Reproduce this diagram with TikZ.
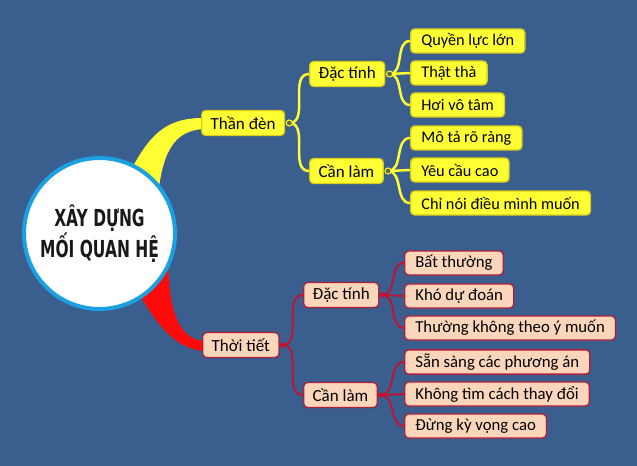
\documentclass[tikz,border=0pt]{standalone}
\usepackage{fontspec}
\setmainfont{Carlito}
\newfontfamily\titlefont[FakeStretch=0.66]{DejaVu Sans}
\usetikzlibrary{positioning}
\definecolor{bgblue}{HTML}{3A5E8E}
\definecolor{ringblue}{HTML}{1BA1E2}
\definecolor{lampyellow}{HTML}{FFFF33}
\definecolor{lampedge}{HTML}{D9CC1A}
\definecolor{lampdotgrey}{HTML}{5E6B4A}
\definecolor{wxpeach}{HTML}{FCD6BA}
\definecolor{wxedge}{HTML}{B01E3A}
\definecolor{wxwire}{HTML}{C8102E}
\definecolor{brightred}{HTML}{FF0A0A}
\tikzstyle{hub} = [circle, draw=ringblue, line width=1.2mm, fill=white, minimum size=45.3mm, align=center, text=black!90, font=\titlefont\bfseries\fontsize{20}{24}\selectfont]
\tikzstyle{lampbox} = [rectangle, draw=lampedge, fill=lampyellow, line width=0.4mm, rounded corners=1.2mm, minimum height=7.5mm, inner xsep=2.7mm, anchor=west, font=\fontsize{14.5}{17}\selectfont]
\tikzstyle{lampleaf} = [lampbox, minimum height=7.2mm, inner xsep=3.2mm, font=\fontsize{13.9}{15}\selectfont]
\tikzstyle{wxbox} = [lampbox, draw=wxedge, fill=wxpeach]
\tikzstyle{wxleaf} = [lampleaf, draw=wxedge, fill=wxpeach, font=\fontsize{14.3}{15}\selectfont]
\tikzstyle{lampwire} = [draw=lampyellow, line width=0.75mm]
\tikzstyle{wxwire} = [draw=wxwire, line width=0.55mm]
\tikzstyle{lampdot} = [circle, draw=lampyellow, fill=lampdotgrey, line width=0.25mm, inner sep=0pt, minimum size=1.8mm]
\tikzstyle{wxdot} = [circle, fill=wxwire, inner sep=0pt, minimum size=1.6mm]

\begin{document}
\begin{tikzpicture}[x=0.3mm, y=-0.3mm]

        \fill[bgblue] (0,0) rectangle (637,466);
        \useasboundingbox (0,0) rectangle (637,466);

        % thick branches out of the circle
        \fill[lampyellow] (126,180) .. controls (148,135) and (165,118) .. (203,118)
                -- (203,129) .. controls (175,131) and (163,150) .. (158,195) -- cycle;
        \fill[brightred] (132,280) .. controls (155,325) and (175,348) .. (203,351)
                -- (203,341) .. controls (182,338) and (170,320) .. (168,265) -- cycle;

        \node [hub] (hub) at (99.5,233.5) {XÂY DỰNG\\MỐI QUAN HỆ};

        % upper side
        \node [lampbox] (lamp) at (201,123) {Thần đèn};
        \node [lampbox] (lampfeat) at (309,74) {Đặc tính};
        \node [lampbox] (lampdo) at (309,171) {Cần làm};
        \node [lampleaf] (power) at (410,41) {Quyền lực lớn};
        \node [lampleaf] (honest) at (410,73) {Thật thà};
        \node [lampleaf] (careless) at (410,105) {Hơi vô tâm};
        \node [lampleaf] (describe) at (410,138) {Mô tả rõ ràng};
        \node [lampleaf] (demand) at (410,170) {Yêu cầu cao};
        \node [lampleaf] (wish) at (410,203) {Chỉ nói điều mình muốn};

        \node [lampdot, right = 0.2mm of lamp] (lampjoint) {};
        \node [lampdot, right = 0.2mm of lampfeat] (featjoint) {};
        \node [lampdot, right = 0.2mm of lampdo] (dojoint) {};

        \draw [lampwire] (lampjoint.center) to[out=0, in=180] (lampfeat.west);
        \draw [lampwire] (lampjoint.center) to[out=0, in=180] (lampdo.west);
        \draw [lampwire] (featjoint.center) to[out=0, in=180] (power.west);
        \draw [lampwire] (featjoint.center) -- (honest.west);
        \draw [lampwire] (featjoint.center) to[out=0, in=180] (careless.west);
        \draw [lampwire] (dojoint.center) to[out=0, in=180] (describe.west);
        \draw [lampwire] (dojoint.center) -- (demand.west);
        \draw [lampwire] (dojoint.center) to[out=0, in=180] (wish.west);
        \node [lampdot] at (lampjoint) {};
        \node [lampdot] at (featjoint) {};
        \node [lampdot] at (dojoint) {};

        % lower side
        \node [wxbox] (weather) at (202,345) {Thời tiết};
        \node [wxbox] (wxfeat) at (303,295) {Đặc tính};
        \node [wxbox] (wxdo) at (303,395) {Cần làm};
        \node [wxleaf] (odd) at (404,263) {Bất thường};
        \node [wxleaf] (unsure) at (404,296) {Khó dự đoán};
        \node [wxleaf] (unwanted) at (404,328) {Thường không theo ý muốn};
        \node [wxleaf] (plans) at (404,362) {Sẵn sàng các phương án};
        \node [wxleaf] (nochange) at (404,394) {Không tìm cách thay đổi};
        \node [wxleaf] (lowhope) at (404,426) {Đừng kỳ vọng cao};

        \node [wxdot, right = 0pt of weather] (wxjoint) {};
        \node [wxdot, right = 0pt of wxfeat] (wxfeatjoint) {};
        \node [wxdot, right = 0pt of wxdo] (wxdojoint) {};

        \draw [wxwire] (wxjoint.center) to[out=0, in=180] (wxfeat.west);
        \draw [wxwire] (wxjoint.center) to[out=0, in=180] (wxdo.west);
        \draw [wxwire] (wxfeatjoint.center) to[out=0, in=180] (odd.west);
        \draw [wxwire] (wxfeatjoint.center) -- (unsure.west);
        \draw [wxwire] (wxfeatjoint.center) to[out=0, in=180] (unwanted.west);
        \draw [wxwire] (wxdojoint.center) to[out=0, in=180] (plans.west);
        \draw [wxwire] (wxdojoint.center) -- (nochange.west);
        \draw [wxwire] (wxdojoint.center) to[out=0, in=180] (lowhope.west);

\end{tikzpicture}
\end{document}
